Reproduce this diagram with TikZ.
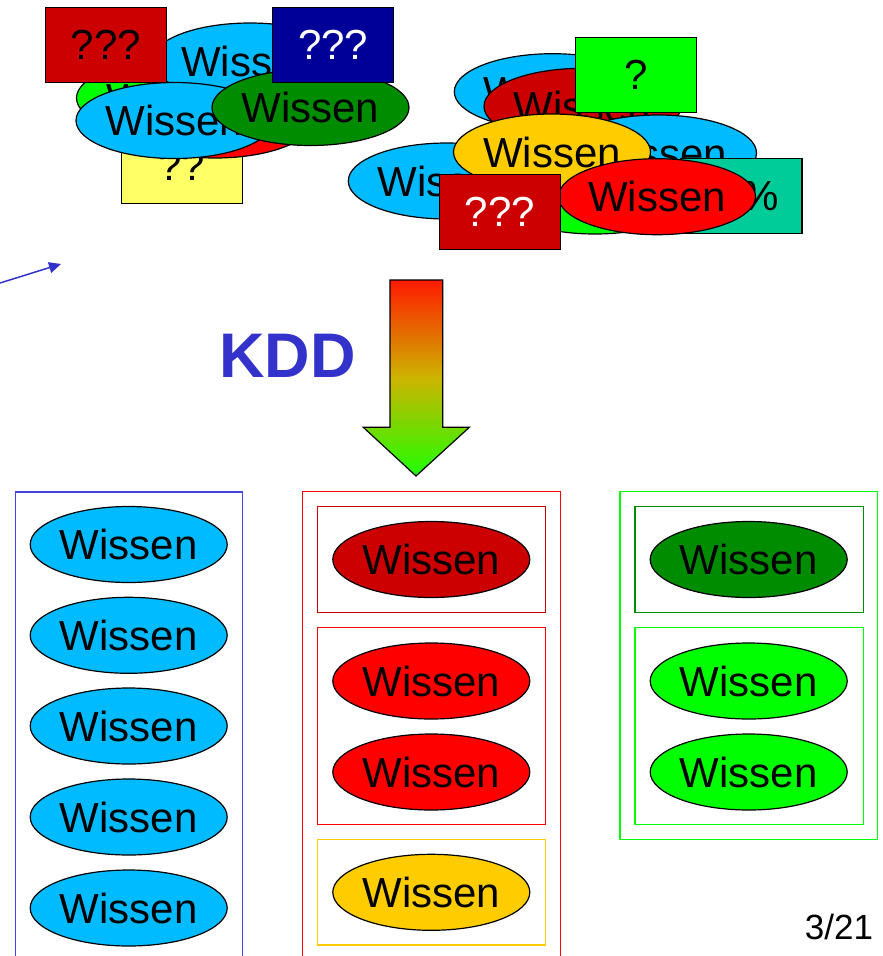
\documentclass[tikz,border=0pt]{standalone}
\usepackage{fontspec}
\setmainfont{Liberation Sans}
\usetikzlibrary{shapes.geometric,arrows.meta}

\definecolor{skyblue}{RGB}{0,187,255}
\definecolor{darkred}{RGB}{204,0,0}
\definecolor{brightred}{RGB}{255,0,0}
\definecolor{gold}{RGB}{255,204,0}
\definecolor{darkgreen}{RGB}{0,140,0}
\definecolor{brightgreen}{RGB}{0,255,0}
\definecolor{navy}{RGB}{0,0,153}
\definecolor{paleyellow}{RGB}{255,255,102}
\definecolor{teal}{RGB}{0,204,153}
\definecolor{kddblue}{RGB}{51,51,204}
\definecolor{colblue}{RGB}{68,68,221}

\begin{document}
\begin{tikzpicture}[x=1pt, y=-1pt,
    wissen/.style={ellipse, draw, line width=1.2pt, minimum width=197pt, minimum height=76pt, inner sep=0pt, font=\fontsize{42}{48}\selectfont},
    qbox/.style={rectangle, draw, line width=1.2pt, minimum width=121pt, minimum height=75pt, inner sep=0pt, font=\fontsize{42}{48}\selectfont},
    colbox/.style={line width=1.5pt}]
    \useasboundingbox (0,0) rectangle (883,956);

    % Unsorted knowledge, left heap
    \node[qbox, fill=paleyellow] (q4) at (182,166) {??};
    \node[wissen, fill=brightgreen] (w1) at (175,98) {Wissen};
    \node[wissen, fill=brightred] (w2) at (215,120) {Wissen};
    \node[wissen, fill=skyblue] (w3) at (250,61) {Wissen};
    \node[qbox, fill=darkred] (q1) at (106,45) {???};
    \node[wissen, fill=skyblue] (w4) at (174.5,120.5) {Wissen};
    \node[wissen, fill=darkgreen] (w5) at (310.5,107.5) {Wissen};
    \node[qbox, fill=navy, text=white] (q2) at (333.3,45.3) {???};

    % Unsorted knowledge, right heap
    \node[wissen, fill=skyblue] (w6) at (552.8,91.7) {Wissen};
    \node[wissen, fill=darkred] (w7) at (582.5,106.3) {Wissen};
    \node[qbox, fill=brightgreen] (q3) at (635.8,75) {?};
    \node[wissen, fill=skyblue] (w8) at (446.8,181) {Wissen};
    \node[wissen, fill=skyblue] (w9) at (658,153) {Wissen};
    \node[qbox, fill=teal] (q5) at (741.5,196) {\%\%};
    \node[wissen, fill=brightgreen] (w10) at (595,196) {Wissen};
    \node[wissen, fill=gold] (w11) at (552,152) {Wissen};
    \node[wissen, fill=brightred] (w12) at (657,196.7) {Wissen};
    \node[qbox, fill=darkred, text=white] (q6) at (499.8,211.7) {???};

    % Pointer from the left
    \coordinate (src) at (0,283);
    \coordinate (tgt) at (61,264);
    \draw[kddblue, line width=1.5pt, -{Triangle[length=12pt,width=11pt]}] (src) -- (tgt);

    % KDD step
    \node[text=kddblue, font=\bfseries\fontsize{63}{70}\selectfont] (kdd) at (287.5,356) {KDD};
    \shade[draw=black, line width=1.2pt,
        top color={rgb,255:red,255;green,26;blue,0},
        bottom color={rgb,255:red,30;green,255;blue,0},
        middle color={rgb,255:red,205;green,180;blue,0}]
        (390,280) -- (442.7,280) -- (442.7,427.3) -- (469.3,427.3) -- (416,476)
        -- (363.3,427.3) -- (390,427.3) -- cycle;

    % Sorted columns
    \draw[colbox, colblue] (15.7,492) rectangle (242.7,975);
    \foreach \y/\n in {544.5/1, 635.3/2, 726/3, 817/4, 908/5}
        \node[wissen, fill=skyblue] (b\n) at (128.7,\y) {Wissen};

    \draw[colbox, brightred] (302.3,491.7) rectangle (560.3,975);
    \draw[colbox, darkred] (317.7,506.7) rectangle (545.3,612.7);
    \draw[colbox, brightred] (317.7,627.3) rectangle (545.3,824.3);
    \draw[colbox, gold] (317.7,839.3) rectangle (545.3,945);
    \node[wissen, fill=darkred] (r1) at (431.3,559.5) {Wissen};
    \node[wissen, fill=brightred] (r2) at (431.3,681) {Wissen};
    \node[wissen, fill=brightred] (r3) at (431.3,772) {Wissen};
    \node[wissen, fill=gold] (r4) at (431.3,892.3) {Wissen};

    \draw[colbox, brightgreen] (620,491.7) rectangle (877.3,839.3);
    \draw[colbox, darkgreen] (635,506.7) rectangle (863.3,612.7);
    \draw[colbox, brightgreen] (635,627.3) rectangle (863.3,824.3);
    \node[wissen, fill=darkgreen] (g1) at (748.7,559.5) {Wissen};
    \node[wissen, fill=brightgreen] (g2) at (748.7,681) {Wissen};
    \node[wissen, fill=brightgreen] (g3) at (748.7,772) {Wissen};

    % Page number
    \node[font=\fontsize{35}{40}\selectfont] (page) at (839,927) {3/21};
\end{tikzpicture}
\end{document}
